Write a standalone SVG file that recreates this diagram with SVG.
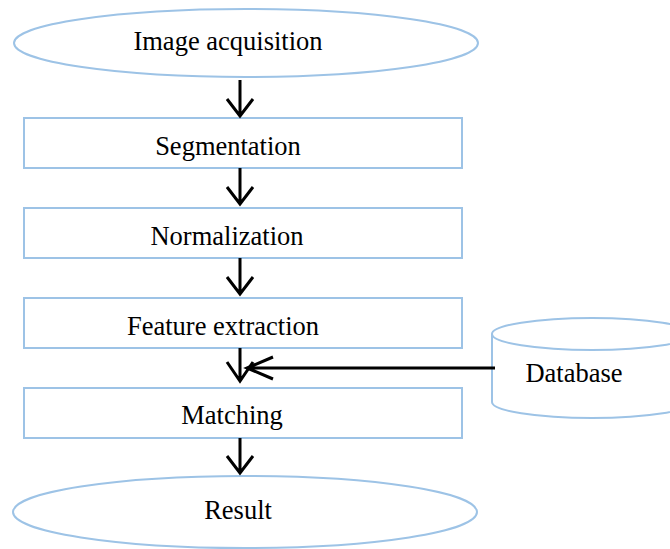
<svg xmlns="http://www.w3.org/2000/svg" width="670" height="549" viewBox="0 0 670 549">
<style>
.s{fill:#fff;stroke:#9dc3e6;stroke-width:2}
.t{font-family:"Liberation Serif","Times New Roman",serif;font-size:26.5px;fill:#000;text-anchor:middle}
.c{fill:none;stroke:#000;stroke-width:3}
</style>
<rect width="670" height="549" fill="#fff"/>
<g id="acq"><ellipse class="s" cx="246" cy="43" rx="232" ry="34"/><text class="t" x="228" y="50">Image acquisition</text></g>
<g id="seg"><rect class="s" x="24" y="118" width="438" height="50"/><text class="t" x="228" y="155">Segmentation</text></g>
<g id="norm"><rect class="s" x="24" y="208" width="438" height="50"/><text class="t" x="227" y="245">Normalization</text></g>
<g id="feat"><rect class="s" x="24" y="298" width="438" height="50"/><text class="t" x="223" y="335">Feature extraction</text></g>
<g id="match"><rect class="s" x="24" y="388" width="438" height="50"/><text class="t" x="232" y="424">Matching</text></g>
<g id="result"><ellipse class="s" cx="245" cy="512" rx="232" ry="36"/><text class="t" x="238" y="519">Result</text></g>
<g id="db">
<path class="s" d="M492 334 L492 402 A100 16 0 0 0 692 402 L692 334 A100 16 0 0 0 492 334 Z"/>
<path class="s" fill="none" d="M492 334 A100 16 0 0 0 692 334"/>
<text class="t" x="574" y="382">Database</text>
</g>
<g id="connectors">
<path class="c" d="M240 80 V116 M227 99 L240 116 L253 99"/>
<path class="c" d="M240 168 V204 M227 187 L240 204 L253 187"/>
<path class="c" d="M240 258 V294 M227 277 L240 294 L253 277"/>
<path class="c" d="M240 348 V381 M227 362 L240 381 L253 362"/>
<path class="c" d="M495 368 H247 M273 357 L247 368 L273 379"/>
<path class="c" d="M240 438 V473 M227 456 L240 473 L253 456"/>
</g>
</svg>
